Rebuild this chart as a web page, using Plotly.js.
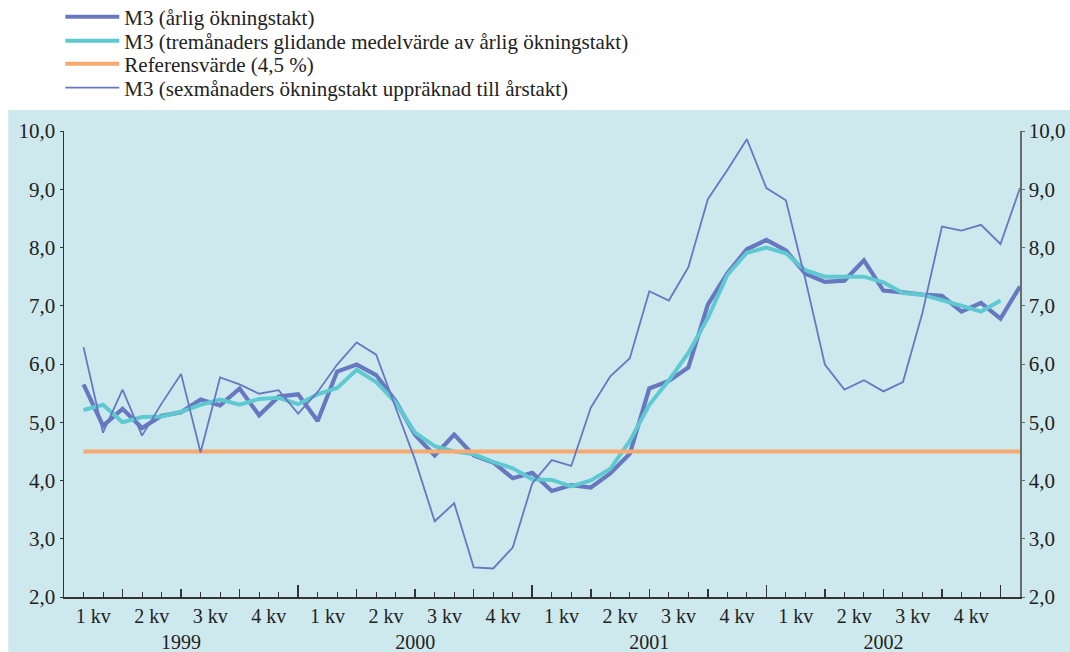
<!DOCTYPE html>
<html>
<head>
<meta charset="utf-8">
<script src="https://cdn.plot.ly/plotly-3.0.1.min.js"></script>
<style>html,body{margin:0;padding:0;background:#fff;}#chart{width:1070px;height:652px;}</style>
</head>
<body>
<div id="chart"></div>
<script>
// Months: index 1 = januari 1999 ... 49 = januari 2003
const monthStart = 1;

// M3 (årlig ökningstakt)
const m3Annual = [5.65, 4.94, 5.23, 4.90, 5.11, 5.17, 5.39, 5.29, 5.58, 5.12, 5.44, 5.48,
                  5.02, 5.87, 5.99, 5.81, 5.36, 4.78, 4.43, 4.79, 4.43, 4.31, 4.04, 4.13,
                  3.82, 3.92, 3.88, 4.12, 4.46, 5.58, 5.71, 5.94, 7.02, 7.56, 7.97, 8.13,
                  7.95, 7.55, 7.41, 7.43, 7.78, 7.26, 7.23, 7.19, 7.17, 6.90, 7.05, 6.78,
                  7.33];

// M3 (tremånaders glidande medelvärde av årlig ökningstakt)
const m3Avg3 = [5.21, 5.30, 5.00, 5.09, 5.10, 5.18, 5.30, 5.39, 5.30, 5.40, 5.42, 5.31,
                5.48, 5.59, 5.90, 5.69, 5.34, 4.82, 4.59, 4.50, 4.45, 4.32, 4.21, 4.02,
                4.01, 3.90, 4.00, 4.20, 4.68, 5.30, 5.72, 6.19, 6.79, 7.53, 7.91, 8.00,
                7.90, 7.61, 7.50, 7.50, 7.50, 7.40, 7.22, 7.19, 7.10, 7.00, 6.90, 7.09];

// Referensvärde (4,5 %)
const refValue = 4.5;

// M3 (sexmånaders ökningstakt uppräknad till årstakt)
const m3Six = [6.29, 4.82, 5.56, 4.77, 5.32, 5.83, 4.48, 5.77, 5.65, 5.49, 5.55, 5.15,
               5.52, 5.99, 6.37, 6.16, 5.25, 4.35, 3.30, 3.61, 2.51, 2.49, 2.85, 3.95,
               4.35, 4.25, 5.25, 5.79, 6.10, 7.25, 7.09, 7.66, 8.83, 9.33, 9.86, 9.02,
               8.81, 7.45, 5.99, 5.56, 5.72, 5.53, 5.69, 6.88, 8.36, 8.29, 8.39, 8.06,
               9.02];

const seriesNames = [
  "M3 (årlig ökningstakt)",
  "M3 (tremånaders glidande medelvärde av årlig ökningstakt)",
  "Referensvärde (4,5 %)",
  "M3 (sexmånaders ökningstakt uppräknad till årstakt)"
];

const quarterLabels = ["1 kv", "2 kv", "3 kv", "4 kv"];
const years = ["1999", "2000", "2001", "2002"];
const yTicks = [2, 3, 4, 5, 6, 7, 8, 9, 10];

const idx = arr => arr.map((_, k) => monthStart + k);
const nMonths = m3Six.length;
const xMax = nMonths; // axis ends one month after December 2002

// tick labels: quarters at period centers, years below (second line)
const tickVals = [], tickText = [];
years.forEach((yr, yi) => {
  quarterLabels.forEach((q, qi) => {
    tickVals.push(yi * 12 + qi * 3 + 1.5);
    tickText.push(q);
  });
  tickVals.push(yi * 12 + 6);
  tickText.push("<br>" + yr);
});

const C_DARK = "#6878c0";
const C_TEAL = "#5fc9d2";
const C_ORANGE = "#f8a96f";
const BG = "#cde9ee";
const FONT = "'Liberation Serif', 'Times New Roman', serif";

const refX = idx(m3Six);
const traces = [
  {x: idx(m3Annual), y: m3Annual, name: seriesNames[0], type: "scatter", mode: "lines",
   line: {color: C_DARK, width: 4.2}, legend: "legend"},
  {x: idx(m3Avg3), y: m3Avg3, name: seriesNames[1], type: "scatter", mode: "lines",
   line: {color: C_TEAL, width: 4}, legend: "legend2"},
  {x: refX, y: refX.map(() => refValue), name: seriesNames[2], type: "scatter", mode: "lines",
   line: {color: C_ORANGE, width: 4}, legend: "legend3"},
  {x: idx(m3Six), y: m3Six, name: seriesNames[3], type: "scatter", mode: "lines",
   line: {color: C_DARK, width: 1.8}, legend: "legend4"},
  // empty helpers so overlay axes are drawn
  {x: [], y: [], xaxis: "x2", yaxis: "y", showlegend: false, hoverinfo: "skip"},
  {x: [], y: [], xaxis: "x3", yaxis: "y", showlegend: false, hoverinfo: "skip"},
  {x: [], y: [], xaxis: "x", yaxis: "y2", showlegend: false, hoverinfo: "skip"}
];

const L = 63.7, R = 1020.5, T = 131, B = 597.4, W = 1070, H = 652;
const pw = R - L, ph = B - T;
const px2x = p => (p - L) / pw;
const px2y = p => (B - p) / ph;

const yTickFont = {family: FONT, size: 21, color: "#222"};
const xTickFont = {family: FONT, size: 20, color: "#222"};
const legendFont = {family: FONT, size: 21, color: "#222"};

const legendRows = [17, 41, 64, 88];
const mkLegend = (row) => ({
  x: px2x(60), y: px2y(row), xanchor: "left", yanchor: "middle",
  bgcolor: "rgba(0,0,0,0)", borderwidth: 0, font: legendFont,
  itemwidth: 54, tracegroupgap: 0
});

const layout = {
  width: W, height: H,
  margin: {l: L, r: W - R, t: T, b: H - B, pad: 0, autoexpand: false},
  paper_bgcolor: "#ffffff",
  plot_bgcolor: BG,
  separators: ", ",
  font: {family: FONT, size: 21, color: "#222"},
  showlegend: true,
  legend: mkLegend(legendRows[0]),
  legend2: mkLegend(legendRows[1]),
  legend3: mkLegend(legendRows[2]),
  legend4: mkLegend(legendRows[3]),
  xaxis: {
    range: [0, xMax], tickmode: "array", tickvals: tickVals, ticktext: tickText,
    ticks: "", tickangle: 0, tickfont: xTickFont, showgrid: false, zeroline: false,
    showline: true, linecolor: "#333", linewidth: 1.5, fixedrange: true
  },
  xaxis2: {
    overlaying: "x", anchor: "y", range: [0, xMax], tickmode: "linear", tick0: 0, dtick: 3,
    ticks: "inside", ticklen: 8, tickwidth: 1.5, tickcolor: "#333",
    minor: {tickmode: "linear", tick0: 0, dtick: 1, ticks: "inside", ticklen: 5, tickwidth: 1, tickcolor: "#333"},
    showticklabels: false, showgrid: false, zeroline: false, showline: false
  },
  xaxis3: {
    overlaying: "x", anchor: "y", range: [0, xMax], tickmode: "linear", tick0: 0, dtick: 12,
    ticks: "inside", ticklen: 12, tickwidth: 1.5, tickcolor: "#333",
    showticklabels: false, showgrid: false, zeroline: false, showline: false
  },
  yaxis: {
    range: [2, 10], tickmode: "array", tickvals: yTicks, tickformat: ".1f",
    ticks: "outside", ticklen: 3, tickcolor: "#333", tickfont: yTickFont,
    showgrid: false, zeroline: false, showline: true, linecolor: "#333", linewidth: 1.5
  },
  yaxis2: {
    overlaying: "y", side: "right", anchor: "x", range: [2, 10], tickmode: "array",
    tickvals: yTicks, tickformat: ".1f", ticks: "outside", ticklen: 3, tickcolor: "#666",
    tickfont: yTickFont, showgrid: false, zeroline: false, showline: true,
    linecolor: "#6a6a6a", linewidth: 1.5
  },
  shapes: [{
    type: "rect", xref: "paper", yref: "paper", layer: "below",
    x0: px2x(8), x1: px2x(W + 5), y0: px2y(H + 5), y1: px2y(110),
    fillcolor: BG, line: {width: 0}
  }]
};

Plotly.newPlot("chart", traces, layout, {displayModeBar: false, staticPlot: true});
</script>
</body>
</html>
